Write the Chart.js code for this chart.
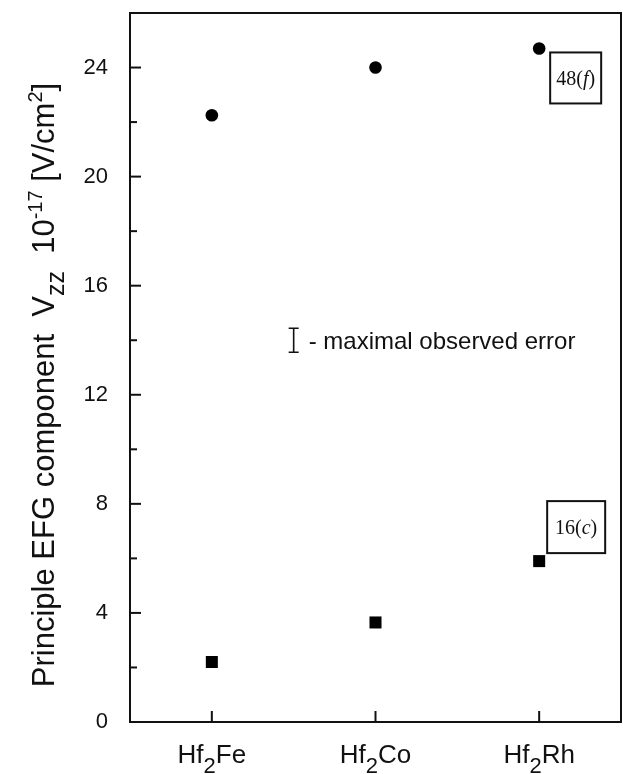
<!DOCTYPE html>
<html>
<head>
<meta charset="utf-8">
<script src="https://cdn.jsdelivr.net/npm/chart.js@4.4.1/dist/chart.umd.min.js"></script>
<style>
  html, body { margin: 0; padding: 0; background: #fff; }
  #wrap { width: 623px; height: 774px; }
</style>
</head>
<body>
<div id="wrap"><canvas id="efg"></canvas></div>
<script>
// Hf2X compounds (x positions 1..3)
const metals = ['Fe', 'Co', 'Rh'];
const xPos = [1, 2, 3];
// Vzz for the 48(f) and 16(c) sites, 10^17 V/cm2
const site48f = [22.25, 24.0, 24.7];
const site16c = [2.2, 3.65, 5.9];
const yTicks = [0, 4, 8, 12, 16, 20, 24];

const SANS = '"Liberation Sans", Arial, sans-serif';
const SERIF = '"Liberation Serif", "Times New Roman", serif';

// draws a run of text parts [{t, size, dy, italic, family}] along one baseline
function drawRich(ctx, parts, x, y, align) {
  let total = 0;
  parts.forEach(p => {
    ctx.font = (p.italic ? 'italic ' : '') + p.size + 'px ' + (p.family || SANS);
    p.w = ctx.measureText(p.t).width;
    total += p.w;
  });
  let cx = align === 'center' ? x - total / 2 : x;
  ctx.textAlign = 'left';
  ctx.textBaseline = 'alphabetic';
  parts.forEach(p => {
    ctx.font = (p.italic ? 'italic ' : '') + p.size + 'px ' + (p.family || SANS);
    ctx.fillText(p.t, cx, y + (p.dy || 0));
    cx += p.w;
  });
  return total;
}

const decorations = {
  id: 'decorations',
  afterDraw(chart) {
    const ctx = chart.ctx;
    const area = chart.chartArea;
    const xs = chart.scales.x, ys = chart.scales.y;
    ctx.save();
    ctx.strokeStyle = '#111';
    ctx.fillStyle = '#111';
    ctx.lineWidth = 2;

    // top and right frame
    ctx.beginPath();
    ctx.moveTo(area.left, area.top);
    ctx.lineTo(area.right, area.top);
    ctx.lineTo(area.right, area.bottom);
    ctx.stroke();

    // inward ticks on y (major every 4, minor every 2)
    for (let v = 0; v <= 26; v += 2) {
      const py = ys.getPixelForValue(v);
      const len = v % 4 === 0 ? 11 : 7;
      ctx.beginPath();
      ctx.moveTo(area.left, py);
      ctx.lineTo(area.left + len, py);
      ctx.stroke();
    }
    // inward ticks on x
    xPos.forEach(v => {
      const px = xs.getPixelForValue(v);
      ctx.beginPath();
      ctx.moveTo(px, area.bottom);
      ctx.lineTo(px, area.bottom - 11);
      ctx.stroke();
    });

    // x category labels Hf2X
    xPos.forEach((v, i) => {
      drawRich(ctx, [
        {t: 'Hf', size: 26},
        {t: '2', size: 22, dy: 10},
        {t: metals[i], size: 26}
      ], xs.getPixelForValue(v), area.bottom + 41, 'center');
    });

    // y axis title
    ctx.save();
    ctx.translate(54, 385);
    ctx.rotate(-Math.PI / 2);
    drawRich(ctx, [
      {t: 'Principle EFG component  V', size: 31},
      {t: 'zz', size: 25, dy: 10},
      {t: '  10', size: 31},
      {t: '-17', size: 20, dy: -12},
      {t: ' [V/cm', size: 31},
      {t: '2', size: 20, dy: -12},
      {t: ']', size: 31}
    ], 0, 0, 'center');
    ctx.restore();

    // site label boxes
    const boxes = [
      {label: '48', site: 'f', x: xs.getPixelForValue(3) + 11, y: ys.getPixelForValue(site48f[2]) + 4, w: 51, h: 51},
      {label: '16', site: 'c', x: xs.getPixelForValue(3) + 8, y: ys.getPixelForValue(site16c[2]) - 60, w: 58, h: 52}
    ];
    boxes.forEach(b => {
      ctx.lineWidth = 2;
      ctx.strokeRect(b.x, b.y, b.w, b.h);
      drawRich(ctx, [
        {t: b.label + '(', size: 20, family: SERIF},
        {t: b.site, size: 20, family: SERIF, italic: true},
        {t: ')', size: 20, family: SERIF}
      ], b.x + b.w / 2, b.y + b.h / 2 + 7, 'center');
    });

    // error legend
    const ex = xs.getPixelForValue(1.5), ey = ys.getPixelForValue(14.0);
    ctx.lineWidth = 1.6;
    ctx.beginPath();
    ctx.moveTo(ex, ey - 12); ctx.lineTo(ex, ey + 12);
    ctx.moveTo(ex - 5, ey - 12); ctx.lineTo(ex + 5, ey - 12);
    ctx.moveTo(ex - 5, ey + 12); ctx.lineTo(ex + 5, ey + 12);
    ctx.stroke();
    drawRich(ctx, [{t: '- maximal observed error', size: 24}], ex + 15, ey + 9, 'left');

    ctx.restore();
  }
};

new Chart(document.getElementById('efg'), {
  type: 'scatter',
  data: {
    datasets: [
      {
        label: '48(f)',
        data: xPos.map((x, i) => ({x: x, y: site48f[i]})),
        pointStyle: 'circle',
        pointRadius: 6.3,
        pointBackgroundColor: '#000',
        pointBorderWidth: 0
      },
      {
        label: '16(c)',
        data: xPos.map((x, i) => ({x: x, y: site16c[i]})),
        pointStyle: 'rect',
        pointRadius: 8.5,
        pointBackgroundColor: '#000',
        pointBorderWidth: 0
      }
    ]
  },
  options: {
    responsive: true,
    maintainAspectRatio: false,
    animation: false,
    layout: {autoPadding: false, padding: {top: 13, right: 2, left: 0, bottom: 0}},
    plugins: {legend: {display: false}, tooltip: {enabled: false}},
    scales: {
      x: {
        type: 'linear',
        min: 0.5,
        max: 3.5,
        grid: {display: false},
        ticks: {display: false},
        border: {display: true, color: '#111', width: 2},
        afterFit: s => { s.height = 52; s.paddingLeft = 0; s.paddingRight = 0; }
      },
      y: {
        min: 0,
        max: 26,
        grid: {display: false},
        border: {display: true, color: '#111', width: 2},
        ticks: {
          stepSize: 4,
          padding: 14,
          color: '#111',
          font: {family: SANS, size: 22},
          callback: v => (yTicks.includes(v) ? String(v) : '')
        },
        afterFit: s => { s.width = 130; s.paddingTop = 0; s.paddingBottom = 0; }
      }
    }
  },
  plugins: [decorations]
});
</script>
</body>
</html>
